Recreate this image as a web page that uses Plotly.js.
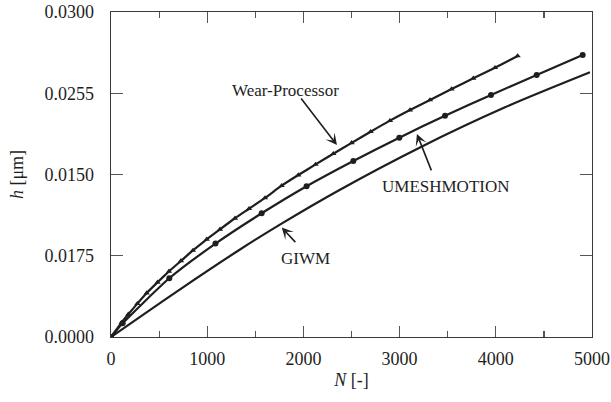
<!DOCTYPE html>
<html>
<head>
<meta charset="utf-8">
<script src="https://cdn.plot.ly/plotly-3.0.1.min.js"></script>
<style>html,body{margin:0;padding:0;background:#fff;}#chart{width:611px;height:402px;}</style>
</head>
<body>
<div id="chart"></div>
<script>
// Wear-Processor (triangles)
const wearN = [0, 111, 180, 274, 371, 484, 603, 728, 852, 995, 1133, 1289, 1435, 1601, 1774, 1947, 2127, 2311, 2502, 2699, 2900, 3108, 3316, 3540, 3766, 3992, 4227];
const wearH = [0, 0.00135, 0.00210, 0.00308, 0.00406, 0.00505, 0.00606, 0.00703, 0.00799, 0.00902, 0.00994, 0.01096, 0.01184, 0.01284, 0.01397, 0.01495, 0.01593, 0.01692, 0.01792, 0.01895, 0.01997, 0.02095, 0.02188, 0.02289, 0.02388, 0.02486, 0.02594];
// UMESHMOTION (circles)
const umeshN = [0, 121, 606, 1086, 1566, 2033, 2519, 2997, 3472, 3950, 4425, 4903];
const umeshH = [0, 0.00126, 0.00542, 0.00862, 0.01142, 0.01392, 0.01625, 0.01840, 0.02043, 0.02234, 0.02419, 0.02603];
// GIWM (plain line)
const giwmN = [0, 676, 1345, 1760, 2380, 3212, 4096, 4979];
const giwmH = [0, 0.00415, 0.00810, 0.01040, 0.01360, 0.01750, 0.02120, 0.02443];
// Axis ticks (labels as printed in the original)
const yTickVals = [0, 0.0075, 0.015, 0.0225, 0.03];
const yTickText = ["0.0000", "0.0175", "0.0150", "0.0255", "0.0300"];
const xTickVals = [0, 1000, 2000, 3000, 4000, 5000];
const xTickText = ["0", "1000", "2000", "3000", "4000", "5000"];

const FONT = 'Liberation Serif, Times New Roman, serif';
const INK = '#1e1e1e';

const traces = [
  {x: giwmN, y: giwmH, mode: 'lines', line: {color: INK, width: 2.2, shape: 'spline', smoothing: 0.8}, name: 'GIWM'},
  {x: umeshN, y: umeshH, mode: 'lines+markers', line: {color: INK, width: 2.2, shape: 'spline', smoothing: 0.6},
   marker: {symbol: 'circle', size: 6, color: INK}, name: 'UMESHMOTION'},
  {x: wearN, y: wearH, mode: 'lines+markers', line: {color: INK, width: 2.2, shape: 'spline', smoothing: 0.6},
   marker: {symbol: 'triangle-up', size: 5.5, color: INK}, name: 'Wear-Processor'}
];

const axisCommon = {
  showline: true, linecolor: '#3a3a3a', linewidth: 1.3, mirror: 'ticks',
  ticks: 'inside', tickcolor: '#555', tickwidth: 1.2,
  showgrid: false, zeroline: false,
  tickfont: {family: FONT, size: 18, color: INK}
};

const layout = {
  width: 611, height: 402,
  margin: {l: 111, r: 19, t: 12, b: 65},
  paper_bgcolor: '#fff', plot_bgcolor: '#fff',
  showlegend: false,
  font: {family: FONT, color: INK},
  xaxis: Object.assign({}, axisCommon, {
    range: [0, 5000], tickmode: 'array', tickvals: xTickVals, ticktext: xTickText, ticklen: 11,
    minor: {dtick: 500, tick0: 0, ticks: 'inside', ticklen: 6, tickcolor: '#555', tickwidth: 1.2, showgrid: false},
    ticklabelstandoff: 5,
    title: {text: '<i>N</i> [-]', font: {family: FONT, size: 18, color: INK}, standoff: 5}
  }),
  yaxis: Object.assign({}, axisCommon, {
    range: [0, 0.03], tickmode: 'array', tickvals: yTickVals, ticktext: yTickText, ticklen: 12,
    ticklabelstandoff: 12,
    title: {text: '<i>h</i> [μm]', font: {family: FONT, size: 18, color: INK}, standoff: 16}
  }),
  annotations: [
    {x: 1809, y: 0.0228, xref: 'x', yref: 'y', text: 'Wear-Processor', showarrow: false, font: {family: FONT, size: 17, color: INK}},
    {x: 3482, y: 0.01385, xref: 'x', yref: 'y', text: 'UMESHMOTION', showarrow: false, font: {family: FONT, size: 17, color: INK}},
    {x: 2017, y: 0.00729, xref: 'x', yref: 'y', text: 'GIWM', showarrow: false, font: {family: FONT, size: 17, color: INK}},
    {x: 2349, y: 0.01772, xref: 'x', yref: 'y', text: '', showarrow: true, ax: -37, ay: -48, arrowhead: 3, arrowsize: 1.2, arrowwidth: 1.6, arrowcolor: INK},
    {x: 3180, y: 0.01875, xref: 'x', yref: 'y', text: '', showarrow: true, ax: 15, ay: 38, arrowhead: 3, arrowsize: 1.2, arrowwidth: 1.6, arrowcolor: INK},
    {x: 1775, y: 0.0101, xref: 'x', yref: 'y', text: '', showarrow: true, ax: 15, ay: 16, arrowhead: 3, arrowsize: 1.2, arrowwidth: 1.6, arrowcolor: INK}
  ]
};

Plotly.newPlot('chart', traces, layout, {displayModeBar: false, staticPlot: true});
</script>
</body>
</html>
